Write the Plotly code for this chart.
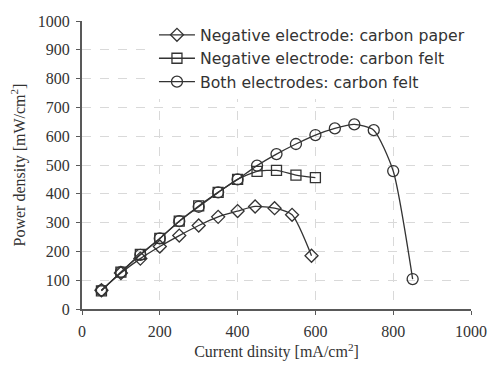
import plotly.graph_objects as go

# Data
paper_x = [50, 100, 150, 200, 250, 300, 350, 400, 445, 495, 540, 590]
paper_y = [65, 125, 175, 217, 255, 290, 320, 340, 356, 350, 327, 185]

felt_x = [50, 100, 150, 200, 250, 300, 350, 400, 450, 500, 550, 600]
felt_y = [63, 128, 190, 245, 305, 358, 405, 450, 478, 481, 465, 456]

both_x = [50, 100, 150, 200, 250, 300, 350, 400, 450, 500, 550, 600, 650, 700, 750, 800, 850]
both_y = [65, 128, 188, 245, 305, 355, 405, 450, 498, 538, 573, 604, 627, 641, 621, 479, 104]

names = ["Negative electrode: carbon paper",
         "Negative electrode: carbon felt",
         "Both electrodes: carbon felt"]

x_ticks = [0, 200, 400, 600, 800, 1000]
y_ticks = [0, 100, 200, 300, 400, 500, 600, 700, 800, 900, 1000]

line_col = "#333333"
fig = go.Figure()
for xs, ys, nm, sym, sz in [(paper_x, paper_y, names[0], "diamond-open", 10),
                             (felt_x, felt_y, names[1], "square-open", 10),
                             (both_x, both_y, names[2], "circle-open", 11)]:
    fig.add_trace(go.Scatter(
        x=xs, y=ys, name=nm, mode="lines+markers",
        line=dict(color=line_col, width=1.3, shape="spline", smoothing=0.6),
        marker=dict(symbol=sym, size=sz, color=line_col, line=dict(width=1.3, color=line_col)),
    ))

fig.update_layout(
    width=488, height=367,
    margin=dict(l=82, r=17, t=21, b=58),
    paper_bgcolor="white", plot_bgcolor="white",
    showlegend=True,
    legend=dict(
        x=0.185, y=1.01, xanchor="left", yanchor="top",
        bgcolor="white", borderwidth=0,
        font=dict(family="DejaVu Sans", size=15.7, color="#333333"),
        itemwidth=36, tracegroupgap=0,
    ),
    font=dict(family="Liberation Serif", color="#333333"),
)
fig.update_xaxes(
    range=[0, 1000], tickvals=x_ticks, ticktext=[str(v) for v in x_ticks],
    showgrid=True, gridcolor="#d9d9d9", griddash="dash", gridwidth=1,
    showline=True, linecolor="#595959", linewidth=2,
    ticks="outside", ticklen=4, tickcolor="#595959",
    zeroline=False, tickfont=dict(family="Liberation Serif", size=16, color="#333333"),
    ticklabelstandoff=3, automargin=False,
    title=dict(text="Current dinsity [mA/cm<sup>2</sup>]",
               font=dict(family="Liberation Serif", size=16, color="#333333"), standoff=7),
)
fig.update_yaxes(
    range=[0, 1000], tickvals=y_ticks, ticktext=[str(v) for v in y_ticks],
    showgrid=True, gridcolor="#d9d9d9", griddash="dash", gridwidth=1,
    showline=True, linecolor="#595959", linewidth=2,
    ticks="outside", ticklen=4, tickcolor="#595959",
    zeroline=False, tickfont=dict(family="Liberation Serif", size=16, color="#333333"),
    ticklabelstandoff=3, automargin=False,
    title=dict(text="Power density [mW/cm<sup>2</sup>]",
               font=dict(family="Liberation Serif", size=16, color="#333333"), standoff=8),
)
fig.write_html("out.html")
